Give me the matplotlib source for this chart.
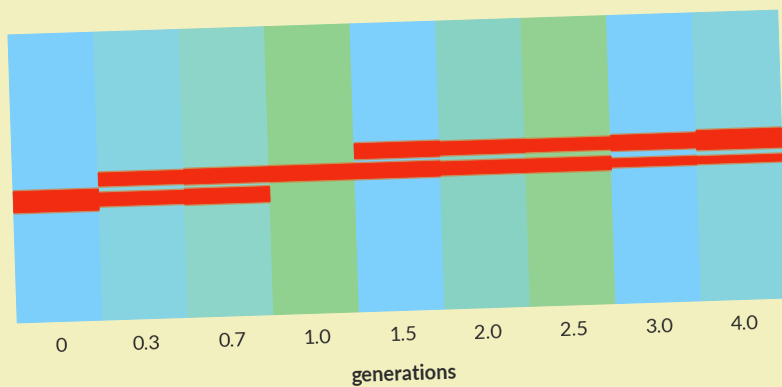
import matplotlib
matplotlib.use("Agg")
import matplotlib.pyplot as plt
from matplotlib.patches import Rectangle
from matplotlib.transforms import Affine2D

# ---- data ----
generations = ["0", "0.3", "0.7", "1.0", "1.5", "2.0", "2.5", "3.0", "4.0"]
lane_colors = ["#7ccffb", "#86d4e2", "#8cd5c8", "#90d18f", "#7dd0fb",
               "#88d2c4", "#93d193", "#7ccffb", "#86d3dd"]
# band densities (g/cm3)
density_light = 1.710
density_hybrid = 1.717
density_heavy = 1.724
# band intensity per generation (0 = absent)
light_band = [0.0, 0.0, 0.0, 0.0, 0.62, 0.5, 0.45, 0.62, 0.88]
hybrid_band = [0.0, 0.5, 0.6, 0.62, 0.62, 0.5, 0.5, 0.19, 0.12]
heavy_band = [1.0, 0.5, 0.62, 0.0, 0.0, 0.0, 0.0, 0.0, 0.0]
xlabel = "generations"

# ---- figure ----
W, H, DPI = 782, 387, 100
paper = "#f3f0c0"
fig = plt.figure(figsize=(W / DPI, H / DPI), dpi=DPI, facecolor=paper)

left_px, top_px, width_px, height_px = 8, 35, 770, 288
ax = fig.add_axes([left_px / W, (H - top_px - height_px) / H, width_px / W, height_px / H])
ax.axis("off")
ax.set_xlim(-0.5, len(generations) - 0.5)
y_top, y_bot = 1.6654, 1.7662
ax.set_ylim(y_bot, y_top)

angle = 1.85
rot = Affine2D().rotate_deg_around(left_px, H - top_px, angle)
tr = ax.transData + rot

ppu = height_px / (y_bot - y_top)  # pixels per density unit

# lanes
for i, c in enumerate(lane_colors):
    ax.add_patch(Rectangle((i - 0.5, y_top), 1.0, y_bot - y_top, facecolor=c,
                           edgecolor=c, linewidth=0.8, transform=tr,
                           clip_on=False, zorder=1))

# bands
def draw_band(i, dens, v):
    if v <= 0:
        return
    t = (5 + 16 * v) / ppu
    e = 1.8 / ppu
    ax.add_patch(Rectangle((i - 0.5, dens - t / 2 - e), 1.0, t + 2 * e,
                           facecolor="#d9793a", alpha=0.75, edgecolor="none",
                           transform=tr, clip_on=False, zorder=2))
    ax.add_patch(Rectangle((i - 0.5, dens - t / 2), 1.0, t,
                           facecolor="#f22c10", edgecolor="#f22c10", linewidth=0.6,
                           transform=tr, clip_on=False, zorder=3))

for i in range(len(generations)):
    draw_band(i, density_light, light_band[i])
    draw_band(i, density_hybrid, hybrid_band[i])
    draw_band(i, density_heavy, heavy_band[i])

# tick labels
lab_tr = ax.transData + Affine2D().translate(0, -25) + rot
for i, g in enumerate(generations):
    ax.text(i, y_bot, g, transform=lab_tr, ha="center", va="center",
            rotation=angle, rotation_mode="anchor", fontsize=14.5,
            family="Lato", color="#2b2b2b", clip_on=False)

xl_tr = ax.transData + Affine2D().translate(0, -64) + rot
ax.text((len(generations) - 1) / 2, y_bot, xlabel, transform=xl_tr,
        ha="center", va="center", rotation=angle, rotation_mode="anchor",
        fontsize=14.5, family="Lato", fontweight="bold", color="#2b2b2b",
        clip_on=False)

fig.savefig("out.png", dpi=DPI, facecolor=paper)
